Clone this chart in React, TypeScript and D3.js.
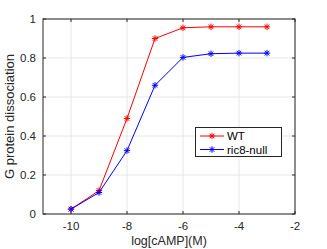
import React from 'react';
import * as d3 from 'd3';

const logConc = [-10, -9, -8, -7, -6, -5, -4, -3];
const wtValues = [0.025, 0.12, 0.49, 0.9, 0.955, 0.96, 0.96, 0.96];
const ric8Values = [0.025, 0.11, 0.325, 0.66, 0.803, 0.822, 0.825, 0.825];
const xTicks = [-10, -8, -6, -4, -2];
const yTicks = [0, 0.2, 0.4, 0.6, 0.8, 1];

const series = [
  { name: 'WT', color: '#ff0000', values: wtValues },
  { name: 'ric8-null', color: '#0000ff', values: ric8Values },
];

const width = 327;
const height = 249;
const margin = { top: 19, right: 32, bottom: 35, left: 43 };

// asterisk marker: plus and cross together
const Star = ({ x, y, color }: { x: number; y: number; color: string }) => {
  const r = 3.2;
  const d = r * 0.72;
  return (
    <g stroke={color} strokeWidth={1}>
      <line x1={x - r} y1={y} x2={x + r} y2={y} />
      <line x1={x} y1={y - r} x2={x} y2={y + r} />
      <line x1={x - d} y1={y - d} x2={x + d} y2={y + d} />
      <line x1={x - d} y1={y + d} x2={x + d} y2={y - d} />
    </g>
  );
};

export default function App() {
  const x = d3.scaleLinear().domain([-11, -2]).range([margin.left, width - margin.right]);
  const y = d3.scaleLinear().domain([0, 1]).range([height - margin.bottom, margin.top]);
  const line = d3.line<number>().x((_, i) => x(logConc[i])).y(d => y(d));
  const x0 = x.range()[0], x1 = x.range()[1];
  const y0 = y.range()[0], y1 = y.range()[1];
  const axisColor = '#262626';
  const font = 'Liberation Sans, Arial, sans-serif';

  return (
    <svg width={width} height={height} style={{ position: 'absolute', left: 0, top: 0, background: '#fff' }}
      fontFamily={font}>
      <rect x={0} y={0} width={width} height={height} fill="#fff" />
      {/* grid */}
      {xTicks.map(t => (
        <line key={'gx' + t} x1={x(t)} x2={x(t)} y1={y0} y2={y1} stroke="#e6e6e6" strokeWidth={1} />
      ))}
      {yTicks.map(t => (
        <line key={'gy' + t} x1={x0} x2={x1} y1={y(t)} y2={y(t)} stroke="#e6e6e6" strokeWidth={1} />
      ))}
      {/* ticks */}
      {xTicks.map(t => (
        <g key={'tx' + t} stroke={axisColor}>
          <line x1={x(t)} x2={x(t)} y1={y0} y2={y0 - 3} />
          <line x1={x(t)} x2={x(t)} y1={y1} y2={y1 + 3} />
        </g>
      ))}
      {yTicks.map(t => (
        <g key={'ty' + t} stroke={axisColor}>
          <line x1={x0} x2={x0 + 3} y1={y(t)} y2={y(t)} />
          <line x1={x1} x2={x1 - 3} y1={y(t)} y2={y(t)} />
        </g>
      ))}
      <rect x={x0} y={y1} width={x1 - x0} height={y0 - y1} fill="none" stroke={axisColor} strokeWidth={1} />
      {/* tick labels */}
      {xTicks.map(t => (
        <text key={'lx' + t} x={x(t)} y={y0 + 16} textAnchor="middle" fontSize={11.5} fill={axisColor}>
          {t}
        </text>
      ))}
      {yTicks.map(t => (
        <text key={'ly' + t} x={x0 - 7} y={y(t) + 4} textAnchor="end" fontSize={11.5} fill={axisColor}>
          {t}
        </text>
      ))}
      <text x={(x0 + x1) / 2} y={height - 4} textAnchor="middle" fontSize={12.5} fill={axisColor}>
        log[cAMP](M)
      </text>
      <text transform={`translate(14,${(y0 + y1) / 2}) rotate(-90)`} textAnchor="middle" fontSize={13} fill={axisColor}>
        G protein dissociation
      </text>
      {/* series */}
      {series.map(s => (
        <g key={s.name}>
          <path d={line(s.values) || ''} fill="none" stroke={s.color} strokeWidth={1} />
          {s.values.map((v, i) => (
            <Star key={i} x={x(logConc[i])} y={y(v)} color={s.color} />
          ))}
        </g>
      ))}
      {/* legend */}
      <rect x={195.5} y={127.5} width={86} height={29} fill="#fff" stroke={axisColor} strokeWidth={1} />
      {series.map((s, i) => {
        const ly = 136 + i * 13.5;
        return (
          <g key={'leg' + s.name}>
            <line x1={200} x2={224} y1={ly} y2={ly} stroke={s.color} />
            <Star x={212} y={ly} color={s.color} />
            <text x={227} y={ly + 4} fontSize={11.5} fill="#000">
              {s.name}
            </text>
          </g>
        );
      })}
    </svg>
  );
}
